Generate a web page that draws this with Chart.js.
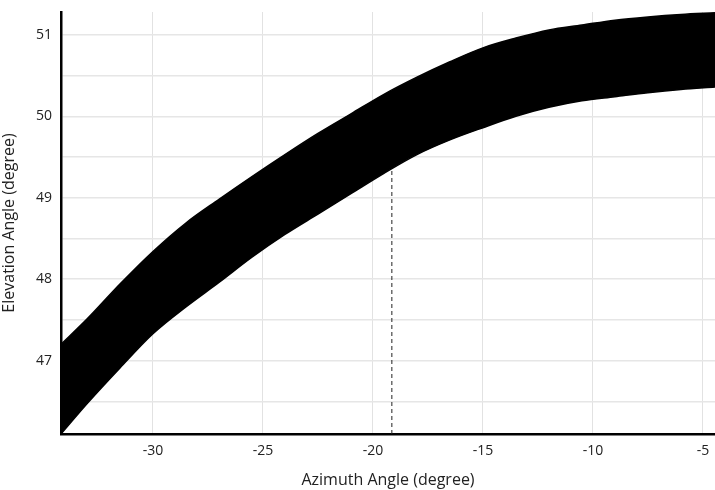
<!DOCTYPE html>
<html>
<head>
<meta charset="utf-8">
<script src="https://cdn.jsdelivr.net/npm/chart.js@4/dist/chart.umd.min.js"></script>
<style>
  html, body { margin: 0; padding: 0; background: #fff; }
  #wrap { width: 715px; height: 490px; }
</style>
</head>
<body>
<div id="wrap"><canvas id="bandChart"></canvas></div>
<script>
// -------- Data --------
const azimuth = [-34.18, -33, -31.5, -30, -28.5, -27, -25.5, -24, -22.5, -21, -19.5,
                 -18, -16.5, -15, -13.5, -12, -10.5, -9, -7.5, -6, -4.45];
const lowerEdge = [46.10, 46.47, 46.91, 47.33, 47.66, 47.96, 48.27, 48.55, 48.80, 49.05, 49.30,
                   49.53, 49.71, 49.86, 50.00, 50.11, 50.19, 50.24, 50.29, 50.33, 50.36];
const upperEdge = [47.20, 47.51, 47.94, 48.34, 48.69, 48.98, 49.26, 49.53, 49.79, 50.03, 50.27,
                   50.48, 50.67, 50.84, 50.96, 51.06, 51.12, 51.18, 51.22, 51.25, 51.27];
const markerX = [-19.14, -19.14];
const markerY = [46.10, 49.37];

const xTicks = [-30, -25, -20, -15, -10, -5];
const yTicks = [46.5, 47, 47.5, 48, 48.5, 49, 49.5, 50, 50.5, 51];

function pts(xs, ys){
    return xs.map(function(x, i){ return { x: x, y: ys[i] }; });
}

const font = "'Open Sans', 'Liberation Sans', sans-serif";

// -------- Chart --------
const ctx = document.getElementById("bandChart").getContext("2d");

new Chart(ctx, {
    type: "line",
    data: {
        datasets: [
            {
                data: pts(azimuth, lowerEdge),
                borderColor: "#000",
                backgroundColor: "#000",
                borderWidth: 1.5,
                pointRadius: 0,
                cubicInterpolationMode: "monotone",
                fill: false
            },
            {
                data: pts(azimuth, upperEdge),
                borderColor: "#000",
                backgroundColor: "#000",
                borderWidth: 1.5,
                pointRadius: 0,
                cubicInterpolationMode: "monotone",
                fill: "-1"
            },
            {
                data: pts(markerX, markerY),
                borderColor: "#222",
                borderWidth: 1,
                borderDash: [4, 3],
                pointRadius: 0,
                fill: false
            }
        ]
    },
    options: {
        responsive: true,
        maintainAspectRatio: false,
        animation: false,
        layout: { padding: { top: 12, right: 0, left: 0, bottom: 0 } },
        plugins: {
            legend: { display: false },
            tooltip: { enabled: false }
        },
        scales: {
            x: {
                type: "linear",
                min: -34.18,
                max: -4.45,
                afterBuildTicks: function(axis){
                    axis.ticks = xTicks.map(function(v){ return { value: v }; });
                },
                afterFit: function(axis){
                    axis.height = 56;
                    axis.paddingLeft = 0;
                    axis.paddingRight = 0;
                },
                border: { display: true, color: "#000", width: 2.5 },
                grid: {
                    color: "#e2e2e2",
                    lineWidth: 1,
                    drawTicks: false
                },
                ticks: {
                    color: "#222",
                    padding: 9,
                    font: { family: font, size: 14 },
                    callback: function(v){ return v; }
                },
                title: {
                    display: true,
                    text: "Azimuth Angle (degree)",
                    color: "#222",
                    padding: { top: 6, bottom: 0 },
                    font: { family: font, size: 16 }
                }
            },
            y: {
                type: "linear",
                min: 46.1,
                max: 51.28,
                afterBuildTicks: function(axis){
                    axis.ticks = yTicks.map(function(v){ return { value: v }; });
                },
                afterFit: function(axis){
                    axis.width = 61;
                    axis.paddingTop = 0;
                    axis.paddingBottom = 0;
                },
                border: { display: true, color: "#000", width: 2.5 },
                grid: {
                    color: "#e6e6e6",
                    lineWidth: 1.5,
                    drawTicks: false
                },
                ticks: {
                    color: "#222",
                    padding: 9,
                    font: { family: font, size: 14 },
                    callback: function(v){ return Number.isInteger(v) ? v : ""; }
                },
                title: {
                    display: true,
                    text: "Elevation Angle (degree)",
                    color: "#222",
                    padding: { top: 0, bottom: 4 },
                    font: { family: font, size: 16 }
                }
            }
        }
    }
});
</script>
</body>
</html>
